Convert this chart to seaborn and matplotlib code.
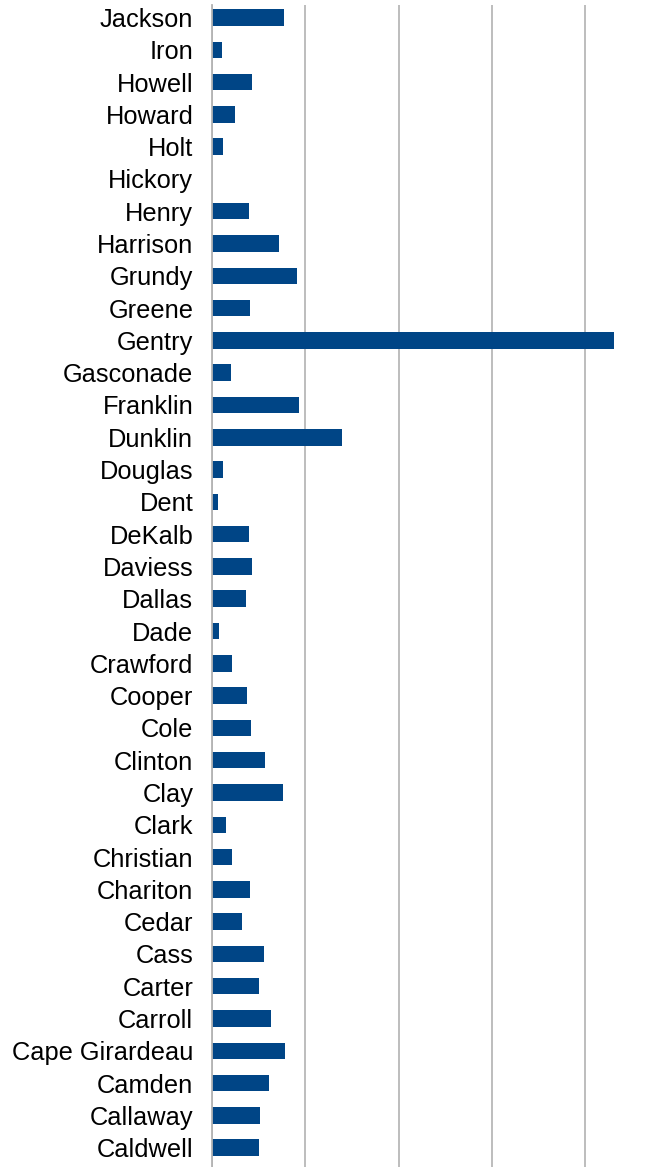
import pandas as pd
import matplotlib.pyplot as plt
import seaborn as sns
from matplotlib.ticker import FixedLocator, MultipleLocator

# County names, top to bottom as shown
counties = ["Jackson", "Iron", "Howell", "Howard", "Holt", "Hickory", "Henry",
            "Harrison", "Grundy", "Greene", "Gentry", "Gasconade", "Franklin",
            "Dunklin", "Douglas", "Dent", "DeKalb", "Daviess", "Dallas", "Dade",
            "Crawford", "Cooper", "Cole", "Clinton", "Clay", "Clark", "Christian",
            "Chariton", "Cedar", "Cass", "Carter", "Carroll", "Cape Girardeau",
            "Camden", "Callaway", "Caldwell"]

# values (gridlines every 5 units)
values = [3.86, 0.52, 2.15, 1.23, 0.59, 0.0, 1.99,
          3.59, 4.56, 2.04, 21.55, 1.02, 4.66,
          6.97, 0.59, 0.32, 1.99, 2.15, 1.82, 0.38,
          1.07, 1.88, 2.09, 2.84, 3.81, 0.75, 1.07,
          2.04, 1.61, 2.79, 2.52, 3.16, 3.91,
          3.05, 2.57, 2.52]

df = pd.DataFrame({"County": counties, "Value": values})

sns.set_style("white")
plt.rcParams["font.family"] = ["Liberation Sans", "DejaVu Sans"]

W, H = 672, 1167
fig = plt.figure(figsize=(W / 100, H / 100), dpi=100)
# axes placed in pixel terms: left edge at x=212, spans y 5..1167
ax = fig.add_axes([212 / W, 0, 1 - 212 / W, 1 - 5 / H])

sns.barplot(data=df, x="Value", y="County", order=counties, color="#004586",
            width=0.51, saturation=1, linewidth=0, ax=ax)

step = 32.29
ax.set_ylim((1167 - 17.5) / step, (5 - 17.5) / step)
ax.set_xlim(0, (672 - 212) / 93.3 * 5)

ax.xaxis.set_major_locator(MultipleLocator(5))
ax.grid(axis="x", color="#b8b8b8", linewidth=1.3)
ax.set_axisbelow(True)
ax.tick_params(axis="x", length=0, labelbottom=False)

# category labels at centres, little tick marks at the boundaries
ax.tick_params(axis="y", which="major", length=0, pad=13.5, labelsize=18.3,
               labelcolor="black")
ax.yaxis.set_minor_locator(FixedLocator([i + 0.5 for i in range(-1, len(counties))]))
ax.tick_params(axis="y", which="minor", length=7.5, width=1.3, color="#b3b3b3")

for s in ["top", "right", "bottom"]:
    ax.spines[s].set_visible(False)
ax.spines["left"].set_color("#b3b3b3")
ax.spines["left"].set_linewidth(1.3)

ax.set_xlabel("")
ax.set_ylabel("")

plt.savefig("out.png", dpi=100)
